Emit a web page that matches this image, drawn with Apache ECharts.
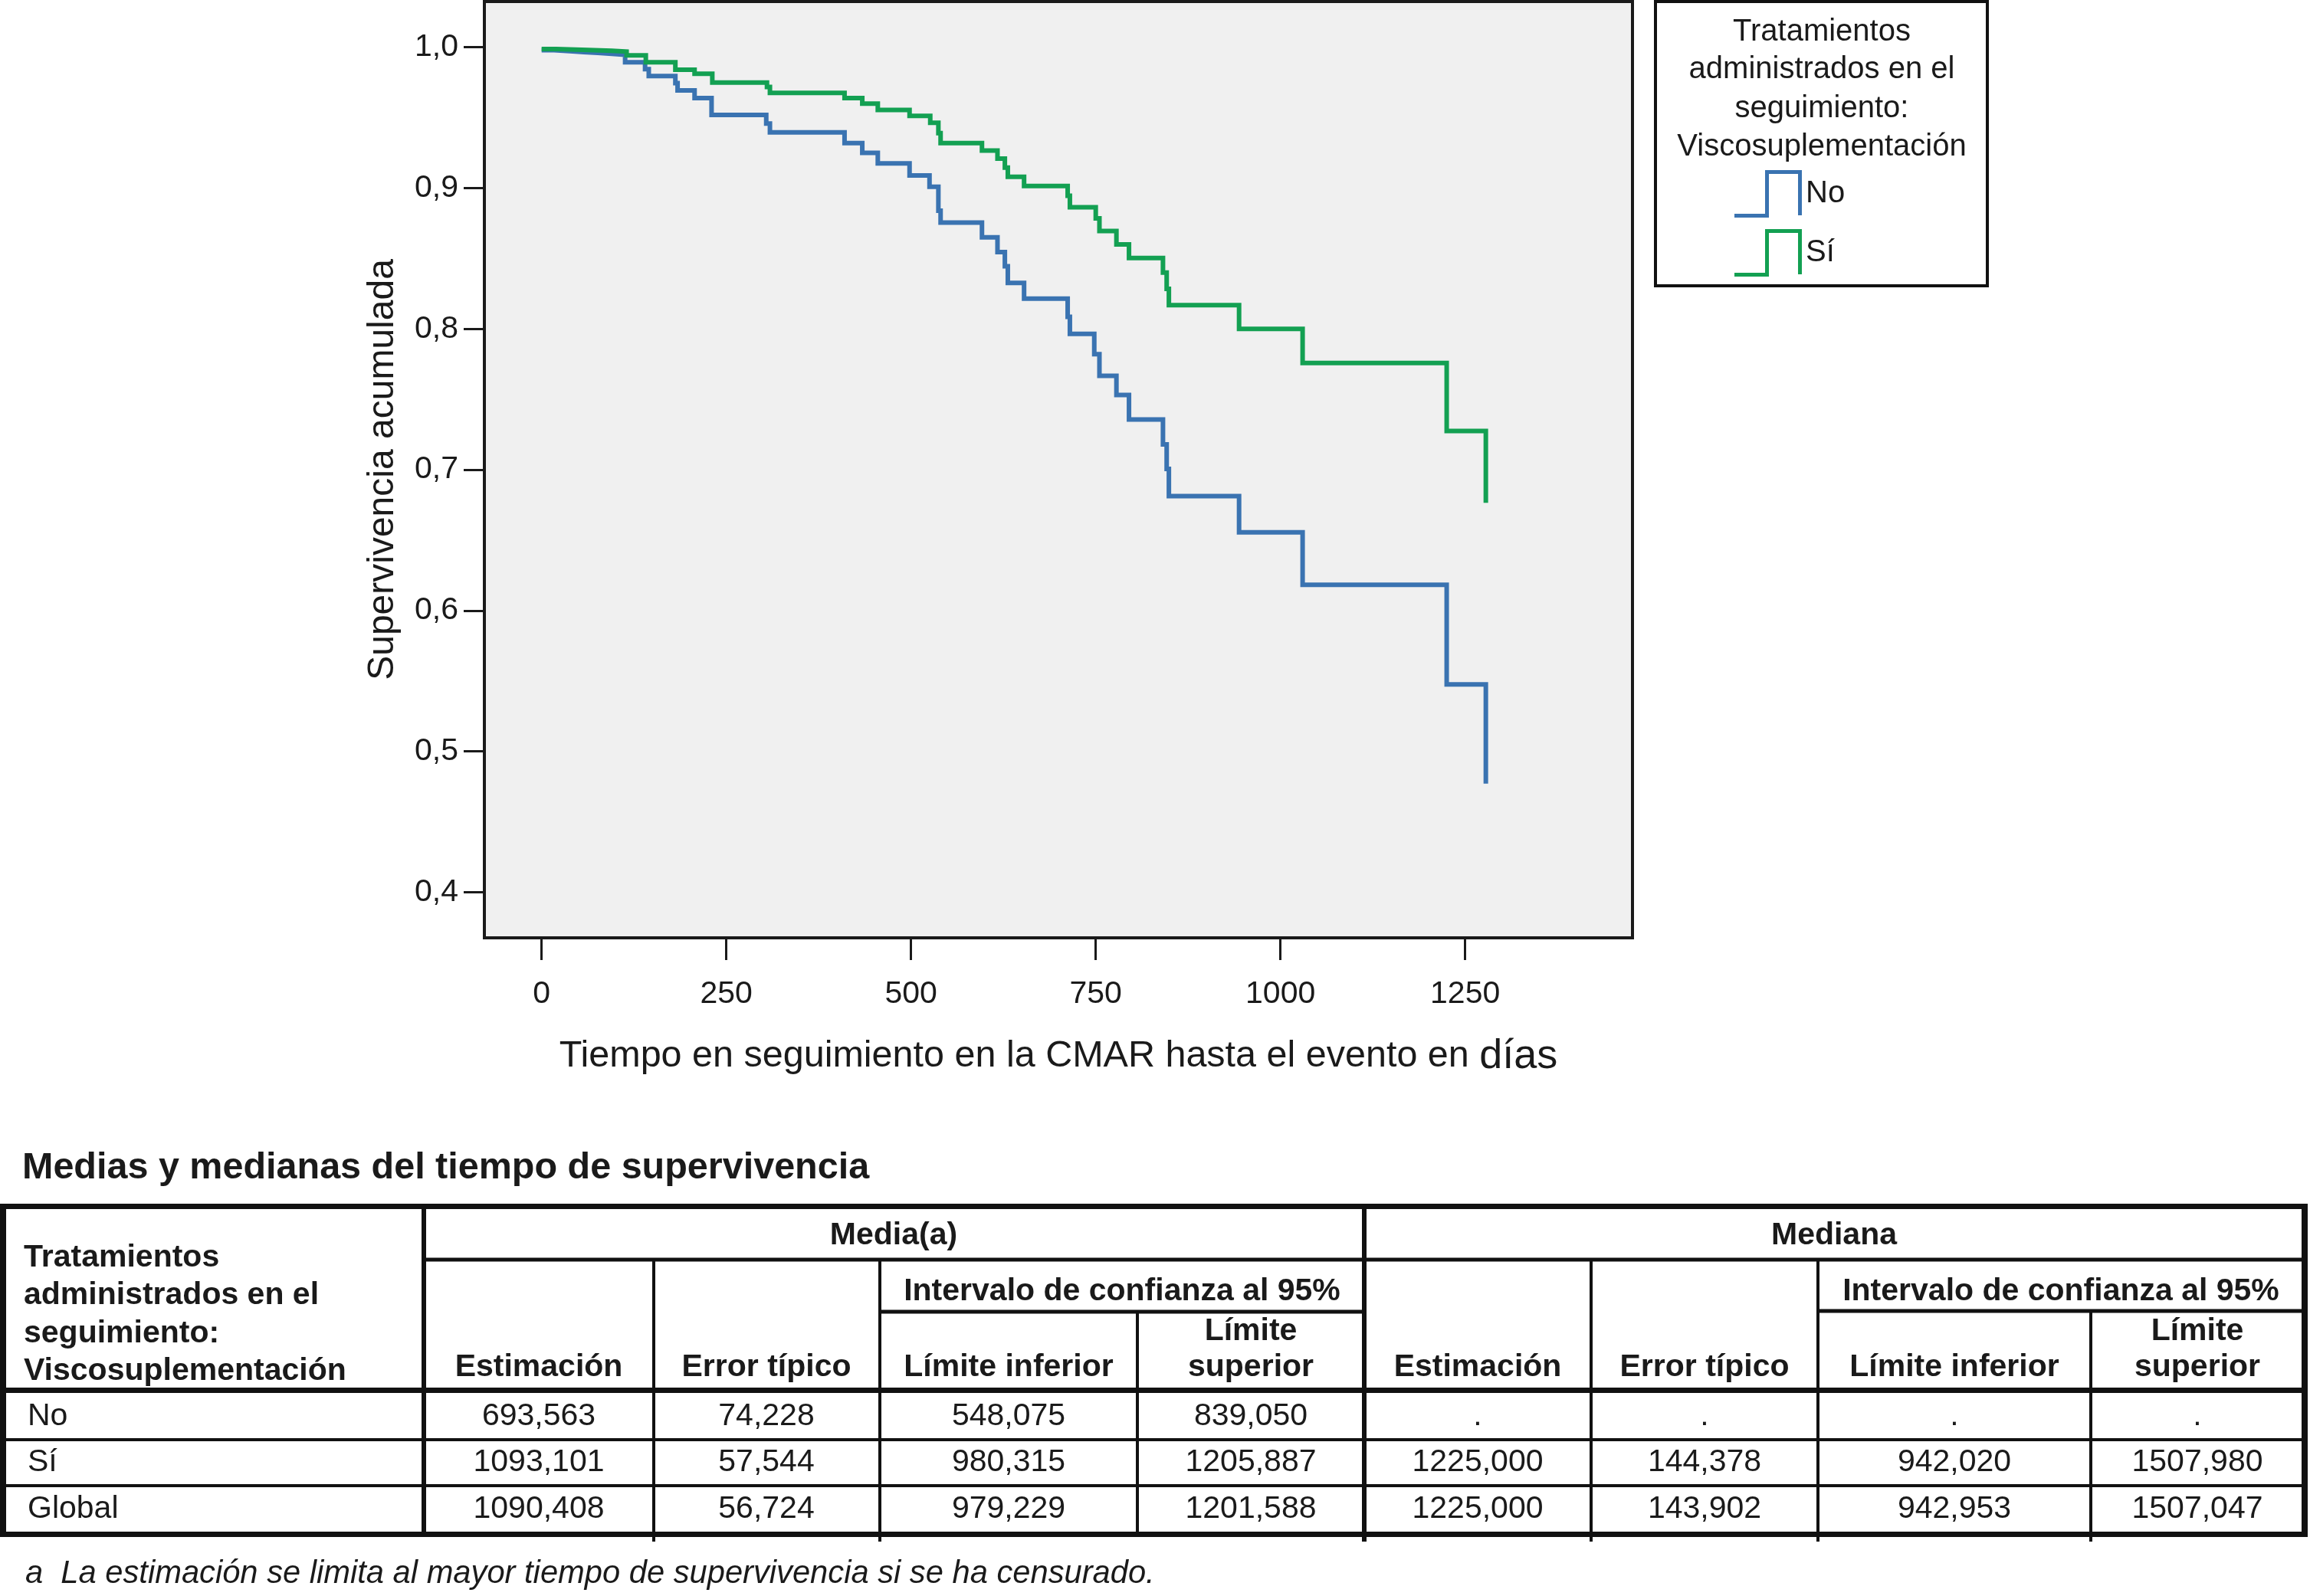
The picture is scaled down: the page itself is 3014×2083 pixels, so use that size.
<!DOCTYPE html>
<html>
<head>
<meta charset="utf-8">
<script src="https://cdn.jsdelivr.net/npm/echarts@6/dist/echarts.min.js"></script>
<style>
html,body{margin:0;padding:0;background:#ffffff;}
#chart{width:3014px;height:2083px;}
</style>
</head>
<body>
<div id="chart"></div>
<script>
// ---------- chart data (Kaplan-Meier steps) ----------
const groupNames = ['No', 'Sí'];
const daysNo = [0,17,38,57,76,95,113,140,145,181,184,207,230,304,309,410,434,455,498,525,537,540,596,617,627,631,653,712,715,748,755,778,795,841,846,849,944,1030,1225,1278];
const survNo = [0.998,0.9972,0.9966,0.996,0.9954,0.9947,0.9894,0.9845,0.9796,0.9745,0.9694,0.964,0.952,0.9458,0.9396,0.932,0.925,0.9176,0.909,0.901,0.884,0.8755,0.865,0.8545,0.8445,0.8327,0.8215,0.8085,0.7964,0.782,0.7667,0.753,0.7357,0.718,0.7006,0.6812,0.6555,0.6183,0.5475,0.477];
const daysSi = [0,20,55,95,115,141,181,207,231,305,309,410,434,455,498,526,537,540,596,617,627,631,653,712,715,750,755,778,795,841,846,849,944,1030,1225,1278];
const survSi = [0.9987,0.9982,0.9976,0.997,0.9943,0.9894,0.984,0.9812,0.9749,0.9718,0.9676,0.964,0.960,0.9555,0.9513,0.9464,0.939,0.932,0.9267,0.921,0.9145,0.908,0.9015,0.8945,0.8864,0.8785,0.8695,0.860,0.8503,0.840,0.8284,0.8168,0.800,0.7758,0.7275,0.6765];
const xTicks = [0,250,500,750,1000,1250];
const yTicks = [0.4,0.5,0.6,0.7,0.8,0.9,1.0];
const legendTitleLines = ['Tratamientos','administrados en el','seguimiento:','Viscosuplementación'];

// ---------- table data ----------
const tableTitle = 'Medias y medianas del tiempo de supervivencia';
const stubHeaderLines = ['Tratamientos','administrados en el','seguimiento:','Viscosuplementación'];
const rowLabels = ['No','Sí','Global'];
const meanEst = [693.563, 1093.101, 1090.408];
const meanSE  = [74.228, 57.544, 56.724];
const meanLo  = [548.075, 980.315, 979.229];
const meanHi  = [839.050, 1205.887, 1201.588];
const medEst  = [null, 1225.000, 1225.000];
const medSE   = [null, 144.378, 143.902];
const medLo   = [null, 942.020, 942.953];
const medHi   = [null, 1507.980, 1507.047];
const footnote = 'a  La estimación se limita al mayor tiempo de supervivencia si se ha censurado.';

// ---------- styling ----------
const FONT = '"Liberation Sans", Arial, Helvetica, sans-serif';
const TXT = '#1a1a1a';
const LINE = '#111111';
const BLUE = '#3a73b1';
const GREEN = '#13a052';

const fmt = v => v == null ? '.' : v.toFixed(3).replace('.', ',');

// graphic helpers
const G = [];
function hr(x1, x2, yc, t) { G.push({type:'rect', silent:true, shape:{x:x1, y:yc - t/2, width:x2 - x1, height:t}, style:{fill:LINE}}); }
function vr(xc, y1, y2, t) { G.push({type:'rect', silent:true, shape:{x:xc - t/2, y:y1, width:t, height:y2 - y1}, style:{fill:LINE}}); }
function txt(x, baseline, text, fs, opts) {
  opts = opts || {};
  G.push({type:'text', silent:true, x:x, y:baseline - 0.35 * fs,
    style:{text:text, fontSize:fs, fontFamily:FONT, fontWeight:opts.weight || 'normal', fontStyle:opts.style || 'normal',
      fill:TXT, align:opts.align || 'center', textAlign:opts.align || 'center', verticalAlign:'middle', textVerticalAlign:'middle'}});
}

// legend box + title
G.push({type:'rect', silent:true, shape:{x:2160, y:2, width:433, height:371}, style:{fill:'none', stroke:LINE, lineWidth:4}});
[56, 105, 156, 206].forEach((b, i) => txt(2377, b, legendTitleLines[i], 40));

// table grid
const TL = 0, TR = 3011;
hr(TL, TR, 1574.5, 7);
hr(553, TR, 1644, 5);
hr(1148, 1780, 1712, 5);
hr(2372, TR, 1711, 5);
hr(TL, TR, 1814.5, 7);
hr(TL, TR, 1879, 4);
hr(TL, TR, 1939, 4);
hr(TL, TR, 2002.5, 7);
vr(4, 1571, 2006, 8);
vr(3007, 1571, 2006, 8);
vr(553, 1571, 2006, 6);
vr(853, 1644, 2012, 4);
vr(1148, 1644, 2012, 4);
vr(1484, 1712, 2006, 4);
vr(1780, 1571, 2012, 6);
vr(2076, 1644, 2012, 4);
vr(2372, 1644, 2012, 4);
vr(2728, 1711, 2012, 4);

// table texts
txt(29, 1542, tableTitle, 48.5, {weight:'bold', align:'left'});
[1656, 1705, 1755, 1804].forEach((b, i) => txt(31, b, stubHeaderLines[i], 41, {weight:'bold', align:'left'}));
txt(1166, 1627, 'Media(a)', 41, {weight:'bold'});
txt(2393, 1627, 'Mediana', 41, {weight:'bold'});
txt(1464, 1700, 'Intervalo de confianza al 95%', 41, {weight:'bold'});
txt(2689, 1700, 'Intervalo de confianza al 95%', 41, {weight:'bold'});
const colX = [703, 1000, 1316, 1632, 1928, 2224, 2550, 2867];
[0, 4].forEach(o => {
  txt(colX[o], 1799, 'Estimación', 41, {weight:'bold'});
  txt(colX[o + 1], 1799, 'Error típico', 41, {weight:'bold'});
  txt(colX[o + 2], 1799, 'Límite inferior', 41, {weight:'bold'});
  txt(colX[o + 3], 1752, 'Límite', 41, {weight:'bold'});
  txt(colX[o + 3], 1799, 'superior', 41, {weight:'bold'});
});
const rowBase = [1863, 1923.5, 1984.5];
const cols = [meanEst, meanSE, meanLo, meanHi, medEst, medSE, medLo, medHi];
rowLabels.forEach((lab, r) => {
  txt(36, rowBase[r], lab, 41, {align:'left'});
  cols.forEach((c, k) => txt(colX[k], rowBase[r], fmt(c[r]), 41));
});
txt(33, 2069, footnote, 41.7, {style:'italic', align:'left'});

const stepIcon = 'path://M0,57 L40,57 L40,0 L88,0 L88,59 L83,59 L83,5 L45,5 L45,62 L0,62 Z';

const chart = echarts.init(document.getElementById('chart'), null, {renderer:'canvas'});
chart.setOption({
  backgroundColor:'#ffffff',
  animation:false,
  grid:{left:632, top:2, width:1498, height:1222, show:true, backgroundColor:'#f0f0f0', borderColor:'#1a1a1a', borderWidth:4, containLabel:false, outerBoundsMode:'none'},
  legend:{
    data:groupNames, orient:'vertical', left:2263, top:222, padding:0,
    itemWidth:88, itemHeight:62, itemGap:15, icon:stepIcon, selectedMode:false,
    itemStyle:{borderWidth:0},
    textStyle:{fontSize:40, color:TXT, fontFamily:FONT}
  },
  xAxis:{
    type:'value', min:-77.5, max:1476.5,
    axisLine:{show:false, onZero:false}, splitLine:{show:false},
    axisTick:{show:true, customValues:xTicks, length:29, lineStyle:{color:'#1a1a1a', width:3}},
    axisLabel:{customValues:xTicks, margin:53, fontSize:41, color:TXT, fontFamily:FONT, formatter:v => String(v)},
    name:'{a|Tiempo en seguimiento en la CMAR hasta el evento en }{b|días}',
    nameLocation:'middle', nameGap:128,
    nameTextStyle:{color:TXT, fontFamily:FONT, rich:{a:{fontSize:48.5, color:TXT, fontFamily:FONT}, b:{fontSize:54, color:TXT, fontFamily:FONT}}}
  },
  yAxis:{
    type:'value', min:0.3675, max:1.0325,
    axisLine:{show:false, onZero:false}, splitLine:{show:false},
    axisTick:{show:true, customValues:yTicks, length:27, lineStyle:{color:'#1a1a1a', width:3}},
    axisLabel:{customValues:yTicks, margin:34, fontSize:41, color:TXT, fontFamily:FONT, formatter:v => v.toFixed(1).replace('.', ',')},
    name:'Supervivencia acumulada', nameLocation:'middle', nameGap:108,
    nameTextStyle:{fontSize:48, color:TXT, fontFamily:FONT}
  },
  series:[
    {name:groupNames[0], type:'line', step:'end', symbol:'none', showSymbol:false, z:2,
     data:daysNo.map((d, i) => [d, survNo[i]]),
     lineStyle:{color:BLUE, width:6, join:'miter', cap:'butt'}, itemStyle:{color:BLUE}},
    {name:groupNames[1], type:'line', step:'end', symbol:'none', showSymbol:false, z:3,
     data:daysSi.map((d, i) => [d, survSi[i]]),
     lineStyle:{color:GREEN, width:6, join:'miter', cap:'butt'}, itemStyle:{color:GREEN}}
  ],
  graphic:{elements:G}
});
</script>
</body>
</html>
